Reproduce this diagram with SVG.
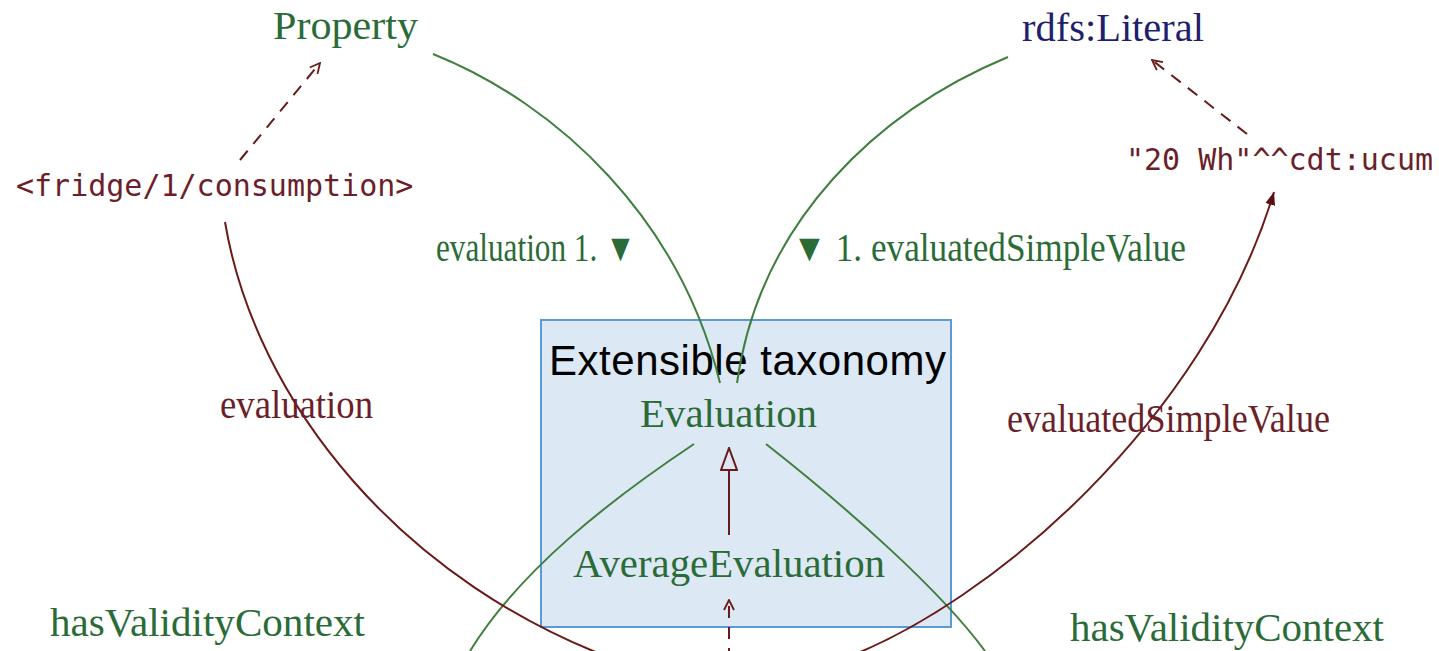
<svg xmlns="http://www.w3.org/2000/svg" width="1439" height="651" viewBox="0 0 1439 651">
<defs>
<style>
.lbl{font-family:"Liberation Serif","Times New Roman",serif;font-size:39px}
.g{fill:#2a6b37}
.r{fill:#6b1f2a}
.n{fill:#1f1f6e}
.mono{font-family:"DejaVu Sans Mono","Liberation Mono",monospace;font-size:30px;fill:#6b1f2a}
.gl{fill:none;stroke:#3f7f3f;stroke-width:2}
.rl{fill:none;stroke:#6b1a1a;stroke-width:2}
.dash{stroke-dasharray:12 9}
</style>
<marker id="open" viewBox="0 0 12 12" refX="11" refY="6" markerWidth="12" markerHeight="12" markerUnits="userSpaceOnUse" orient="auto">
<path d="M1,1 L11,6 L1,11" fill="none" stroke="#6b1a1a" stroke-width="1.8"/>
</marker>
<marker id="fill" viewBox="0 0 14 12" refX="13" refY="6" markerWidth="14" markerHeight="12" markerUnits="userSpaceOnUse" orient="auto">
<path d="M0,1 L13,6 L0,11 Z" fill="#5a0f0f"/>
</marker>
<marker id="tri" viewBox="0 0 24 18" refX="23" refY="9" markerWidth="24" markerHeight="18" markerUnits="userSpaceOnUse" orient="auto">
<path d="M1,1 L23,9 L1,17 Z" fill="#dde8f5" stroke="#6b1a1a" stroke-width="2"/>
</marker>
</defs>
<rect width="1439" height="651" fill="#ffffff"/>
<g id="taxonomy-box">
<rect x="541" y="320" width="410" height="307" fill="#dde8f5" stroke="#5b9bd5" stroke-width="2"/>
<text x="549" y="375" font-family="'Liberation Sans',Arial,sans-serif" font-size="42" fill="#000" textLength="397">Extensible taxonomy</text>
</g>
<g id="connectors">
<path class="gl" d="M433,54 C560,105 680,220 720,383"/>
<path class="gl" d="M1008,57 C880,110 760,220 737,383"/>
<path class="gl" d="M694,444 C610,500 520,570 470,651"/>
<path class="gl" d="M766,444 C850,510 940,590 985,651"/>
<path class="rl" d="M225,222 C255,400 400,585 630,665"/>
<path class="rl" d="M840,660 C990,605 1205,420 1274,192" marker-end="url(#fill)"/>
<path class="rl dash" d="M240,160 L320,63" marker-end="url(#open)"/>
<path class="rl dash" d="M1247,134 L1152,60" marker-end="url(#open)"/>
<path class="rl" d="M729,535 L729,448" marker-end="url(#tri)"/>
<path class="rl dash" d="M729,660 L729,600" marker-end="url(#open)"/>
</g>
<g id="node-property"><text class="lbl g" x="273" y="39" textLength="145" lengthAdjust="spacingAndGlyphs">Property</text></g>
<g id="node-literal"><text class="lbl n" x="1022" y="41" textLength="182" lengthAdjust="spacingAndGlyphs">rdfs:Literal</text></g>
<g id="node-fridge"><text class="mono" x="16" y="196">&lt;fridge/1/consumption&gt;</text></g>
<g id="node-value"><text class="mono" x="1126" y="170">"20 Wh"^^cdt:ucum</text></g>
<g id="node-evaluation"><text class="lbl g" x="640" y="427" textLength="177" lengthAdjust="spacingAndGlyphs">Evaluation</text></g>
<g id="node-average"><text class="lbl g" x="573" y="577" textLength="312" lengthAdjust="spacingAndGlyphs">AverageEvaluation</text></g>
<g id="labels">
<text class="lbl g" x="436" y="261" textLength="200" lengthAdjust="spacingAndGlyphs">evaluation 1. ▼</text>
<text class="lbl g" x="792" y="261" textLength="394" lengthAdjust="spacingAndGlyphs">▼ 1. evaluatedSimpleValue</text>
<text class="lbl r" x="220" y="418" textLength="153" lengthAdjust="spacingAndGlyphs">evaluation</text>
<text class="lbl r" x="1007" y="432" textLength="323" lengthAdjust="spacingAndGlyphs">evaluatedSimpleValue</text>
<text class="lbl g" x="50" y="636" textLength="315" lengthAdjust="spacingAndGlyphs">hasValidityContext</text>
<text class="lbl g" x="1070" y="641" textLength="314" lengthAdjust="spacingAndGlyphs">hasValidityContext</text>
</g>
</svg>
